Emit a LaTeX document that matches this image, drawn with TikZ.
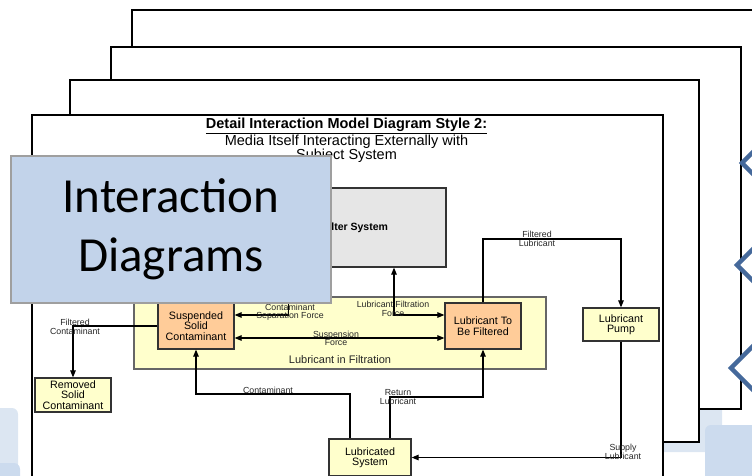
\documentclass[tikz,border=0pt]{standalone}
\usepackage{fontspec}
\setmainfont{Liberation Sans}
\newfontfamily\slidefont{Carlito}
\usetikzlibrary{calc,arrows.meta,positioning}
\definecolor{yelx}{HTML}{FFFFCC}
\definecolor{orgx}{HTML}{FFCC99}
\definecolor{grayx}{HTML}{E6E6E6}
\definecolor{slidex}{HTML}{C2D3EA}
\definecolor{chevx}{HTML}{45699B}
\definecolor{bgx}{HTML}{DCE6F2}
\definecolor{bgy}{HTML}{CCDBEE}
\tikzset{
  ar/.style={-{Triangle[length=7pt,width=5.5pt]},line width=1.1pt},
  arb/.style={{Triangle[length=7pt,width=5.5pt]}-{Triangle[length=7pt,width=5.5pt]},line width=1.1pt},
  sheet/.style={draw,fill=white,line width=1.8pt},
  box/.style={draw=black!80,line width=1.2pt,align=center,inner sep=1pt,font=\fontsize{10.7}{10.5}\selectfont},
  ybox/.style={box,fill=yelx},
  obox/.style={box,fill=orgx},
  lbl/.style={align=center,inner sep=0pt,font=\fontsize{8.8}{8.5}\selectfont,text=black!85},
  chev/.style={draw=chevx,line width=4.5pt,fill=white}
}

\begin{document}
\begin{tikzpicture}[x=1pt,y=-1pt]
\useasboundingbox (0,0) rectangle (752,475);
\fill[bgx,rounded corners=6pt] (-10,408) rectangle (18,470);
\fill[bgy,rounded corners=6pt] (-10,463) rectangle (20,490);
\fill[bgx,rounded corners=6pt] (600,398) rectangle (722,452);
\fill[bgy,rounded corners=6pt] (705,425) rectangle (770,490);
\draw[sheet] (132,10) rectangle (800,376);
\draw[sheet] (111,47) rectangle (741,409);
\draw[sheet] (70,80) rectangle (699,442);
\draw[sheet] (32,115) rectangle (663,490);

\node[align=center,font=\fontsize{14.5}{14}\selectfont] (ttl) at (346.5,140)
  {\underline{\textbf{Detail Interaction Model Diagram Style 2:}}\\Media Itself Interacting Externally with\\Subject System};

\node[draw=black!60,line width=1.2pt,fill=yelx,minimum width=412pt,minimum height=72pt] (fltr) at (340,333) {};
\node[lbl,font=\fontsize{11}{11}\selectfont] (fltrlbl) at (340,360) {Lubricant in Filtration};
\node[box,fill=grayx,minimum width=182pt,minimum height=79pt,font=\bfseries\fontsize{10.5}{11}\selectfont] (filt) at (355,227.5) {Filter System};
\node[obox,minimum width=76pt,minimum height=46pt] (ssc) at (196,326) {Suspended\\Solid\\Contaminant};
\node[obox,minimum width=76pt,minimum height=46pt] (ltbf) at (483,326) {Lubricant To\\Be Filtered};
\node[ybox,minimum width=76pt,minimum height=33pt] (pump) at (621,324.5) {Lubricant\\Pump};
\node[ybox,minimum width=76pt,minimum height=34pt] (rsc) at (73,395) {Removed\\Solid\\Contaminant};
\node[ybox,minimum width=82pt,minimum height=37pt] (lsys) at (370,457.5) {Lubricated\\System};

\coordinate (lffk) at (394,315);
\coordinate (flk) at (550,239);
\coordinate (cntk) at (270,394);
\coordinate (retk) at (440,397);
\draw[ar] (filt.south west) ++(25,0) |- ($(ssc.east)+(0,-11)$);
\draw[arb] (filt.south -| lffk) |- (ltbf.west |- lffk);
\draw[arb] ($(ssc.east)+(0,12)$) -- ($(ltbf.west)+(0,12)$);
\draw[ar] (ltbf.north) |- (flk) -| (pump.north);
\draw[ar] (pump.south) |- (lsys.east);
\draw[ar] ($(lsys.north)+(-20,0)$) |- (cntk) -| (ssc.south);
\draw[ar] ($(lsys.north)+(20,0)$) |- (retk) -| (ltbf.south);
\draw[ar] (ssc.west) -| (rsc.north);

\node[lbl] (seplbl) at (290,312) {Contaminant\\Separation Force};
\node[lbl] (lfflbl) at (393,309) {Lubricant Filtration\\Force};
\node[lbl] (susplbl) at (336,338.5) {Suspension\\Force};
\node[lbl] (fllbl) at (537,239) {Filtered\\Lubricant};
\node[lbl] (suplbl) at (623,452) {Supply\\Lubricant};
\node[lbl] (cntlbl) at (268,390) {Contaminant};
\node[lbl] (retlbl) at (398,397) {Return\\Lubricant};
\node[lbl] (fclbl) at (75,327) {Filtered\\Contaminant};

\node[draw=gray!75,line width=1.3pt,fill=slidex,minimum width=320pt,minimum height=147pt,align=center,font=\slidefont\fontsize{49}{59}\selectfont] (slide) at (171,229.5) {Interaction\\Diagrams};

\draw[chev] (742,163) -- ++(30,-30) -- ++(30,30) -- ++(-30,30) -- cycle;
\draw[chev] (737,265) -- ++(35,-35) -- ++(35,35) -- ++(-35,35) -- cycle;
\draw[chev] (731,368) -- ++(40,-40) -- ++(40,40) -- ++(-40,40) -- cycle;
\end{tikzpicture}
\end{document}
